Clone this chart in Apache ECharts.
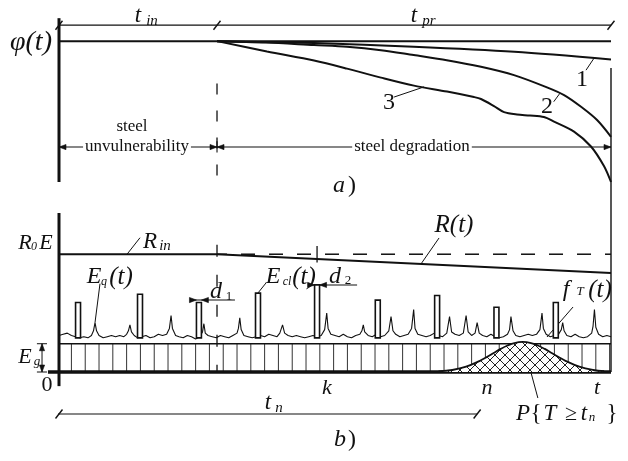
<!DOCTYPE html>
<html><head><meta charset="utf-8">
<script src="https://cdn.jsdelivr.net/npm/echarts/dist/echarts.min.js"></script>
<style>html,body{margin:0;padding:0;background:#fff}#c{width:628px;height:461px}</style>
</head><body><div id="c"></div>
<script>
// ---------- data (time axis in hatch-cell units, 0 = origin, 40 = t) ----------
const T_IN = 11.45, T_K = 18.7, T_END = 40;
const T_N_DIM = 30.3;
// panel a) : phi(t), 1 = initial level
const curve1 = [[11.45,1],[18.5,0.986],[25.7,0.96],[33,0.924],[40,0.87]];
const curve2 = [[11.45,1],[15,0.99],[18.48,0.972],[20.87,0.96],[23.33,0.936],[25.7,0.901],[28.1,0.865],[30.58,0.818],[32.97,0.759],[35.36,0.672],[36.6,0.617],[37.83,0.534],[38.99,0.44],[40,0.321]];
const curve3 = [[11.45,1],[15.07,0.926],[18.48,0.862],[20.87,0.805],[23.33,0.741],[25.72,0.684],[28.12,0.642],[30.07,0.603],[30.58,0.589],[31.52,0.539],[32.25,0.496],[33.19,0.479],[34.13,0.472],[35.14,0.461],[35.87,0.429],[37.32,0.358],[38.55,0.252],[39.49,0.113],[40,0.0]];
// panel b) : levels in units of R0E
const R0E = 1;
const resistance = [[0,1],[11.45,1],[40,0.84]];
const EG = 0.24;
const hatchT = [0.9,1.9,2.9,3.9,4.9,5.9,6.9,7.9,8.9,9.9,10.9,11.9,12.9,13.9,14.9,15.9,16.9,17.9,18.9,19.9,20.9,21.9,22.9,23.9,24.9,25.9,26.9,27.9,28.9,29.9,30.9,31.9,32.9,33.9,34.9,35.9,36.9,37.9,38.9,39.9];
const eclT   = [1.38,5.87,10.14,14.42,18.7,23.1,27.4,31.7,36.0];
const eclTop = [0.59,0.66,0.59,0.67,0.74,0.61,0.65,0.55,0.59];
const ECL_BASE = 0.29;
const eqNoise = [[0,0.31],[0.3,0.32],[0.6,0.33],[0.9,0.31],[1.2,0.30],[1.5,0.29],[1.8,0.30],[2.1,0.29],[2.35,0.31],[2.5,0.35],[2.61,0.42],[2.72,0.35],[2.9,0.31],[3.2,0.29],[3.5,0.30],[3.8,0.31],[4.1,0.30],[4.4,0.31],[4.7,0.30],[4.9,0.32],[5.03,0.35],[5.14,0.40],[5.25,0.34],[5.45,0.31],[5.7,0.29],[6.0,0.30],[6.3,0.31],[6.6,0.29],[6.9,0.30],[7.2,0.32],[7.5,0.31],[7.8,0.32],[8.0,0.37],[8.12,0.48],[8.22,0.37],[8.45,0.31],[8.7,0.30],[9.0,0.29],[9.3,0.31],[9.6,0.30],[9.9,0.28],[10.2,0.30],[10.4,0.34],[10.5,0.41],[10.6,0.33],[10.8,0.31],[11.1,0.30],[11.4,0.29],[11.7,0.31],[12.0,0.30],[12.3,0.29],[12.6,0.31],[12.9,0.33],[13.0,0.37],[13.1,0.46],[13.2,0.36],[13.4,0.31],[13.7,0.30],[14.0,0.29],[14.3,0.30],[14.6,0.31],[14.9,0.30],[15.2,0.32],[15.5,0.31],[15.8,0.30],[16.0,0.33],[16.2,0.40],[16.35,0.33],[16.6,0.31],[16.9,0.30],[17.2,0.31],[17.5,0.30],[17.8,0.29],[18.1,0.30],[18.4,0.31],[18.7,0.30],[19.0,0.31],[19.25,0.36],[19.4,0.50],[19.5,0.37],[19.7,0.32],[20.0,0.31],[20.3,0.30],[20.6,0.32],[20.9,0.30],[21.2,0.29],[21.5,0.31],[21.8,0.32],[21.95,0.35],[22.05,0.40],[22.15,0.34],[22.4,0.31],[22.7,0.30],[23.0,0.32],[23.3,0.30],[23.6,0.31],[23.9,0.35],[24.06,0.47],[24.2,0.35],[24.4,0.32],[24.7,0.30],[25.0,0.31],[25.3,0.32],[25.55,0.37],[25.7,0.53],[25.8,0.37],[26.0,0.32],[26.3,0.31],[26.6,0.30],[26.9,0.31],[27.2,0.33],[27.5,0.31],[27.8,0.30],[28.1,0.33],[28.3,0.47],[28.45,0.34],[28.7,0.32],[29.0,0.31],[29.3,0.33],[29.5,0.48],[29.65,0.34],[29.9,0.31],[30.15,0.33],[30.3,0.42],[30.45,0.33],[30.7,0.31],[31.0,0.30],[31.3,0.32],[31.6,0.30],[31.9,0.29],[32.2,0.30],[32.5,0.32],[32.65,0.36],[32.75,0.47],[32.9,0.35],[33.1,0.31],[33.4,0.30],[33.7,0.31],[34.0,0.32],[34.3,0.31],[34.6,0.32],[34.85,0.36],[35.0,0.50],[35.1,0.37],[35.3,0.32],[35.6,0.30],[35.9,0.31],[36.2,0.32],[36.4,0.36],[36.5,0.42],[36.6,0.35],[36.8,0.31],[37.1,0.30],[37.4,0.32],[37.7,0.30],[38.0,0.29],[38.3,0.30],[38.6,0.33],[38.7,0.39],[38.8,0.53],[38.9,0.38],[39.1,0.32],[39.4,0.30],[39.7,0.31],[40.0,0.30]];
const bellFT = [[27.5,0.005],[28.5,0.017],[29.5,0.045],[30.5,0.095],[31,0.127],[31.5,0.162],[32,0.196],[32.5,0.225],[33,0.246],[33.6,0.255],[34.2,0.246],[34.7,0.225],[35.2,0.196],[35.7,0.162],[36.2,0.127],[36.7,0.095],[37.7,0.045],[38.7,0.017],[39.5,0.007]];

// ---------- drawing helpers ----------
const INK = '#111';
const chart = echarts.init(document.getElementById('c'), null, {renderer:'canvas'});
function seg(g, data, style) {
  return {type:'custom', xAxisIndex:g, yAxisIndex:g, clip:false, silent:true, z:3,
    encode:{x:[0,2], y:[1,3]},
    renderItem:(p,api)=>{
      const a=api.coord([api.value(0),api.value(1)]), b=api.coord([api.value(2),api.value(3)]);
      return {type:'line', shape:{x1:a[0],y1:a[1],x2:b[0],y2:b[1]}, style:Object.assign({stroke:INK, lineWidth:1.2}, style)};
    }, data};
}
function arrows(g, data) {
  return {type:'custom', xAxisIndex:g, yAxisIndex:g, clip:false, silent:true, z:4,
    encode:{x:0, y:1},
    renderItem:(p,api)=>{
      const c=api.coord([api.value(0),api.value(1)]); const ang=api.value(2)*Math.PI/180;
      const L=7, W=2.6, dx=Math.cos(ang), dy=Math.sin(ang);
      const bx=c[0]-dx*L, by=c[1]-dy*L;
      return {type:'polygon', shape:{points:[[bx-dy*W,by+dx*W],[c[0],c[1]],[bx+dy*W,by-dx*W]]}, style:{fill:INK, stroke:INK, lineWidth:0.6}};
    }, data};
}
function slashes(g, data) {
  return {type:'custom', xAxisIndex:g, yAxisIndex:g, clip:false, silent:true, z:4,
    encode:{x:0, y:1},
    renderItem:(p,api)=>{
      const c=api.coord([api.value(0),api.value(1)]);
      return {type:'line', shape:{x1:c[0]-3.5,y1:c[1]+4.5,x2:c[0]+3.5,y2:c[1]-4.5}, style:{stroke:INK, lineWidth:1.4}};
    }, data};
}
function curve(g, data, w, smooth) {
  return {type:'line', xAxisIndex:g, yAxisIndex:g, data, smooth:smooth, symbol:'none', silent:true, z:3,
    lineStyle:{color:INK, width:w}};
}
// cross-hatch pattern
const pc = document.createElement('canvas'); pc.width = 10; pc.height = 10;
const cx = pc.getContext('2d'); cx.fillStyle='#fff'; cx.fillRect(0,0,10,10);
cx.strokeStyle='#222'; cx.lineWidth=1; cx.beginPath();
cx.moveTo(0,0); cx.lineTo(10,10); cx.moveTo(10,0); cx.lineTo(0,10); cx.stroke();

const series = [
  // ---- panel a ----
  seg(0, [[0,1.163,0,0]], {lineWidth:3}),
  seg(0, [[0,1.113,T_END,1.113]], {lineWidth:1.2}),
  slashes(0, [[0,1.113],[T_IN,1.113],[T_END,1.113]]),
  seg(0, [[0,1,T_END,1]], {lineWidth:2}),
  curve(0, curve1, 2, 0.3), curve(0, curve2, 2, 0.3), curve(0, curve3, 2, 0.3),
  seg(0, [[T_IN,0.70,T_IN,0]], {lineWidth:1.3, lineDash:[11,16]}),
  seg(0, [[0,0.248,T_END,0.248]], {lineWidth:1.1}),
  arrows(0, [[0,0.248,180],[T_IN,0.248,0],[T_IN,0.248,180],[T_END,0.248,0]]),
  seg(0, [[T_IN,0.29,T_IN,0.21]], {lineWidth:1.1}),
  seg(0, [[T_END,0.81,T_END,-0.22]], {lineWidth:1.4}),
  seg(0, [[38.77,0.879,38.19,0.794],[36.3,0.63,35.85,0.57],[24.28,0.603,26.45,0.675]], {lineWidth:1}),
  // ---- panel b ----
  seg(1, [[0,1.35,0,-0.12]], {lineWidth:3}),
  seg(1, [[T_END,1.35,T_END,0]], {lineWidth:1.4}),
  seg(1, hatchT.map(t=>[t,0,t,EG]), {lineWidth:1, stroke:'#333'}),
  seg(1, [[0,EG,T_END,EG]], {lineWidth:1.5}),
  {type:'line', xAxisIndex:1, yAxisIndex:1, data:bellFT, smooth:0.4, symbol:'none', silent:true, z:5,
    lineStyle:{color:INK, width:1.8}, areaStyle:{color:{image:pc, repeat:'repeat'}, opacity:1}},
  seg(1, [[-0.8,0,T_END,0]], {lineWidth:3.5}),
  seg(1, [[T_IN,1.08,T_IN,0]], {lineWidth:1.3, lineDash:[12,18]}),
  seg(1, [[T_K,1.07,T_K,0.93]], {lineWidth:1.3}),
  seg(1, [[T_IN,R0E,T_END,R0E]], {lineWidth:1.5, lineDash:[14,14], lineDashOffset:4}),
  curve(1, resistance, 2, false),
  {type:'line', xAxisIndex:1, yAxisIndex:1, data:eqNoise, symbol:'none', silent:true, z:6,
    lineStyle:{color:INK, width:1.1}},
  {type:'custom', xAxisIndex:1, yAxisIndex:1, silent:true, z:7, encode:{x:0, y:[1,2]},
    renderItem:(p,api)=>{
      const a=api.coord([api.value(0)-0.18, api.value(2)]), b=api.coord([api.value(0)+0.18, api.value(1)]);
      return {type:'rect', shape:{x:a[0], y:a[1], width:b[0]-a[0], height:b[1]-a[1]}, style:{fill:'#fff', stroke:INK, lineWidth:1.6}};
    }, data: eclT.map((t,i)=>[t, ECL_BASE, eclTop[i]])},
  // dimension marks
  seg(1, [[9.5,0.611,12.75,0.611],[18.3,0.739,21.6,0.739]], {lineWidth:1.1}),
  arrows(1, [[9.96,0.611,0],[10.32,0.611,180],[18.52,0.739,0],[18.88,0.739,180]]),
  seg(1, [[-1.23,0,-1.23,EG],[-1.6,EG,-0.87,EG],[-1.6,0,-0.87,0]], {lineWidth:1}),
  arrows(1, [[-1.23,EG,270],[-1.23,0,90]]),
  seg(1, [[-0.07,-0.357,T_N_DIM,-0.357]], {lineWidth:1.1}),
  slashes(1, [[0,-0.357],[T_N_DIM,-0.357]]),
  // leaders
  seg(1, [[4.93,1.0,5.87,1.14],[2.61,0.42,2.97,0.75],[14.42,0.671,15.0,0.756],[26.23,0.917,27.54,1.138],[37.25,0.552,35.36,0.297],[33.9,0.127,34.7,-0.221]], {lineWidth:1})
];

// ---------- text labels ----------
const labels = [
 ['φ(t)',31,43,28,'i'],
 ['t',138,16,23,'i'],['in',152,21,15,'i'],
 ['t',414,16,23,'i'],['pr',429,21,15,'i'],
 ['1',582,80,24],['2',547,107,24],['3',389,103,24],
 ['steel',132,127,17],['unvulnerability',137,147,17,'bg'],['steel degradation',412,147,17,'bg'],
 ['a',339,186,24,'i'],[')',352,186,24],
 ['R',25,243,22,'i'],['0',34,247,12,'i'],['E',46,243,22,'i'],
 ['R',150,242,23,'i'],['in',165,246,15,'i'],
 ['E',94,277,24,'i'],['q',104,282,12,'i'],['(t)',121,277,25,'i'],
 ['E',273,277,24,'i'],['cl',287,282,12,'i'],['(t)',304,277,25,'i'],
 ['d',216,292,24,'i'],['1',229,297,13],
 ['d',335,277,24,'i'],['2',348,281,13],
 ['R(t)',454,225,25,'i'],
 ['f',566,290,24,'i'],['T',580,292,13,'i'],['(t)',600,290,25,'i'],
 ['E',25,357,22,'i'],['g',37,362,13,'i'],
 ['0',47,385,22],
 ['k',327,388,22,'i'],['n',487,388,22,'i'],['t',597,388,22,'i'],
 ['t',268,403,23,'i'],['n',279,408,15,'i'],
 ['P',523,414,23,'i'],['{',536,414,23],['T',550,414,23,'i'],['≥',571,414,22],['t',584,414,23,'i'],['n',592,418,13,'i'],['}',612,414,23],
 ['b',340,440,24,'i'],[')',352,440,24]
];
const graphic = labels.map(([text,x,y,size,f]) => ({
  type:'text', x, y, z:100, silent:true,
  style:{text, font:(f==='i'?'italic ':'')+size+'px "Liberation Serif", serif', fill:INK,
    align:'center', verticalAlign:'middle',
    backgroundColor: f==='bg' ? '#fff' : undefined, padding: f==='bg' ? [0,2] : 0}
}));

chart.setOption({
  animation:false, backgroundColor:'#fff',
  grid:[{left:59, top:20, width:552, height:162}, {left:59, top:213, width:552, height:159}],
  xAxis:[{type:'value', gridIndex:0, min:0, max:40, show:false}, {type:'value', gridIndex:1, min:0, max:40, show:false}],
  yAxis:[{type:'value', gridIndex:0, min:0, max:1.15, show:false}, {type:'value', gridIndex:1, min:0, max:1.35, show:false}],
  series, graphic
});
</script></body></html>
